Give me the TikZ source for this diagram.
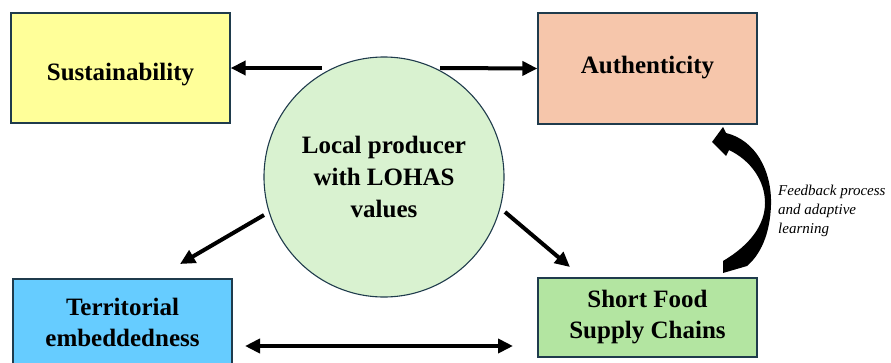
\documentclass[tikz,border=0pt]{standalone}
\usepackage{fontspec}
\setmainfont{Liberation Serif}
\usetikzlibrary{arrows.meta}
\definecolor{edgeblue}{HTML}{1F3B4C}
\definecolor{sustfill}{HTML}{FFFF99}
\definecolor{authfill}{HTML}{F6C6AB}
\definecolor{terrfill}{HTML}{66CCFF}
\definecolor{sfscfill}{HTML}{B3E5A1}
\definecolor{corefill}{HTML}{D9F2D0}
\tikzset{
  conceptbox/.style={draw=edgeblue, line width=1.3pt, minimum width=219pt,
    align=center, inner sep=0pt,
    font=\bfseries\fontsize{25}{31}\selectfont},
  core/.style={circle, draw=edgeblue, line width=1.1pt, fill=corefill,
    minimum size=240pt, inner sep=0pt, align=center,
    font=\bfseries\fontsize{25}{32}\selectfont},
  flow/.style={line width=4pt, -{Triangle[length=15pt,width=14pt]}},
  twoway/.style={line width=4pt, {Triangle[length=15pt,width=14pt]}-{Triangle[length=15pt,width=14pt]}},
  note/.style={align=left, inner sep=0pt, font=\itshape\fontsize{15}{19}\selectfont}
}
\begin{document}
\begin{tikzpicture}[x=1pt, y=-1pt]
  \useasboundingbox (0,0) rectangle (891,362);

  % the four outcome boxes and the central producer
  \node[conceptbox, fill=sustfill, minimum height=110pt] (sus) at (120.5,68) {\raisebox{-7pt}[\height][\depth]{Sustainability}};
  \node[conceptbox, fill=authfill, minimum height=111pt] (auth) at (647.5,68.5) {\raisebox{1pt}[\height][\depth]{Authenticity}};
  \node[conceptbox, fill=terrfill, minimum height=87pt] (terr) at (122.5,322.5) {Territorial\\embeddedness};
  \node[conceptbox, fill=sfscfill, minimum height=79pt] (sfsc) at (647.5,317.5) {Short Food\\Supply Chains};
  \node[core] (prod) at (384,177) {Local producer\\with LOHAS\\values};

  % arrows leaving the producer
  \coordinate (sfrom) at (322,68);
  \coordinate (afrom) at (440,68);
  \coordinate (tfrom) at (264,215);
  \coordinate (tto) at (180,264);
  \coordinate (cfrom) at (505,212);
  \coordinate (cto) at (570,267);
  \draw[flow] (sfrom) -- (sus.east);
  \draw[flow] (afrom) -- (auth.west);
  \draw[flow] (tfrom) -- (tto);
  \draw[flow] (cfrom) -- (cto);

  % link between embeddedness and supply chains
  \coordinate (dl) at (245,346);
  \coordinate (dr) at (513,346);
  \draw[twoway] (dl) -- (dr);

  % curved feedback arrow from supply chains back to authenticity
  \fill (723,273) -- (723,261)
    .. controls (750,245) and (765,225) .. (765,203)
    .. controls (765,180) and (750,160) .. (729,150)
    -- (726,156) -- (712,142) -- (723,127) -- (726,133)
    .. controls (755,140) and (772,170) .. (771,205)
    .. controls (770,235) and (760,255) .. (747,266) -- cycle;

  \node[note, anchor=north west] (fb) at (778,185) {Feedback process\\and adaptive\\learning};
\end{tikzpicture}
\end{document}
